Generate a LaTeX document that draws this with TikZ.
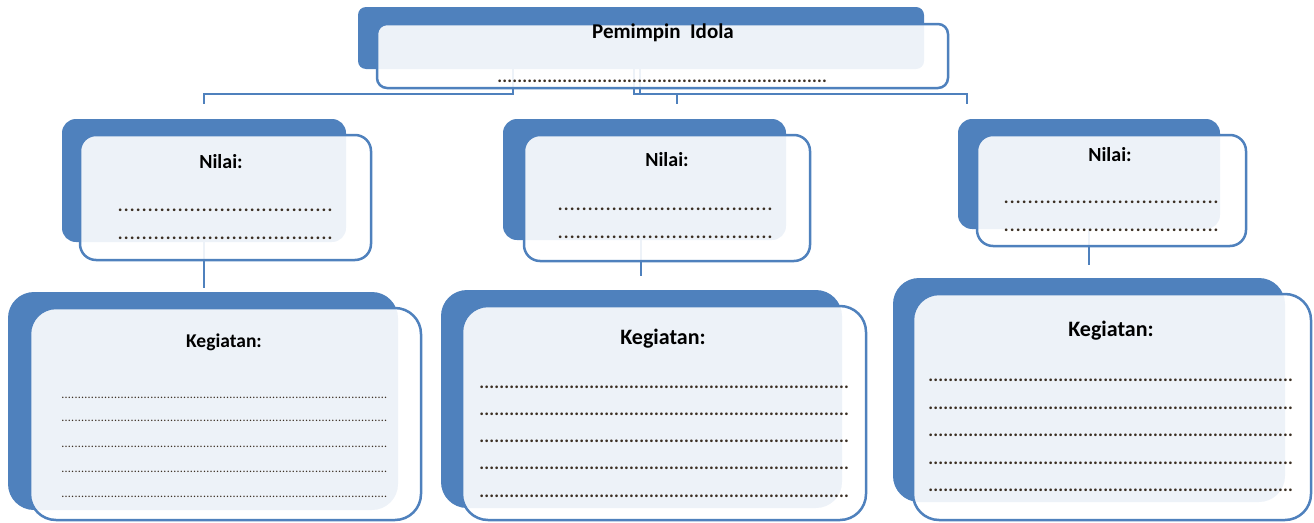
\documentclass[tikz,border=0pt]{standalone}
\usepackage{fontspec}
\setmainfont{Carlito}
\definecolor{blu}{HTML}{4F81BD}
\definecolor{dotc}{HTML}{3A2E22}
\newcommand{\dotrow}[2]{\hbox to #1{\leaders\hbox to #2{\hss.\hss}\hfill}}
\begin{document}
\begin{tikzpicture}[x=1pt,y=-1pt,
  backbox/.style={fill=blu, rectangle, rounded corners=#1, inner sep=0pt, outer sep=0pt},
  frontbox/.style={draw=blu, line width=2.5pt, fill=white, fill opacity=0.9, rectangle, rounded corners=#1, inner sep=0pt, outer sep=0pt},
  lbl/.style={font=\fontsize{#1}{22}\selectfont\bfseries, text=black, inner sep=0pt},
  dotsbig/.style={font=\fontsize{18}{20}\selectfont\bfseries, text=dotc, inner sep=0pt, anchor=base west},
  dotssmall/.style={font=\fontsize{12}{14}\selectfont, text=dotc, inner sep=0pt, anchor=base west},
  conn/.style={draw=blu, line width=2.5pt}]
\useasboundingbox (0,0) rectangle (1314,522);

% junction coordinates
\coordinate (jL) at (204,104);
\coordinate (jM) at (677,104);
\coordinate (jR) at (967,104);
\coordinate (kL) at (204,288);
\coordinate (kM) at (641,276);
\coordinate (kR) at (1089,265);

% back boxes
\node[backbox=8pt, minimum width=566pt, minimum height=62pt] (tb) at (641,38) {};
\node[backbox=14pt, minimum width=284pt, minimum height=123pt] (nbL) at (204,180.5) {};
\node[backbox=14pt, minimum width=283pt, minimum height=121pt] (nbM) at (644.5,179.5) {};
\node[backbox=14pt, minimum width=262pt, minimum height=110pt] (nbR) at (1089,174) {};
\node[backbox=26pt, minimum width=390pt, minimum height=218pt] (kbL) at (203,401) {};
\node[backbox=26pt, minimum width=401pt, minimum height=218pt] (kbM) at (641.5,399) {};
\node[backbox=26pt, minimum width=392pt, minimum height=224pt] (kbR) at (1089,390) {};

% connectors
\draw[conn] (tb.south -| 513,0) |- (jL |- 0,94) -- (jL);
\draw[conn] (tb.south -| 634,0) |- (jM |- 0,94) -- (jM);
\draw[conn] (tb.south -| 640,0) |- (jR |- 0,94) -- (jR);
\draw[conn] (nbL.south -| kL) -- (kL);
\draw[conn] (nbM.south -| kM) -- (kM);
\draw[conn] (nbR.south -| kR) -- (kR);

% front boxes
\node[frontbox=10pt, minimum width=571pt, minimum height=64pt] (tf) at (662.5,56) {};
\node[frontbox=16pt, minimum width=291pt, minimum height=125pt] (nfL) at (225.5,197.5) {};
\node[frontbox=16pt, minimum width=286pt, minimum height=126pt] (nfM) at (667,198) {};
\node[frontbox=16pt, minimum width=269pt, minimum height=111pt] (nfR) at (1111.5,190.5) {};
\node[frontbox=26pt, minimum width=391pt, minimum height=212pt] (kfL) at (225.5,414) {};
\node[frontbox=26pt, minimum width=404pt, minimum height=214pt] (kfM) at (664,413) {};
\node[frontbox=26pt, minimum width=398pt, minimum height=226pt] (kfR) at (1112,407) {};

% labels
\node[lbl=21] (tt) at (663,33) {Pemimpin\ \ Idola};
\node[lbl=20] (ntL) at (221,162) {Nilai:};
\node[lbl=20] (ntM) at (667,160) {Nilai:};
\node[lbl=20] (ntR) at (1110,155) {Nilai:};
\node[lbl=19.5] (ktL) at (224,342) {Kegiatan:};
\node[lbl=22] (ktM) at (663,339) {Kegiatan:};
\node[lbl=22] (ktR) at (1111,331) {Kegiatan:};

% dotted lines
\node[dotsbig] (td) at (497,82) {\dotrow{334pt}{5pt}};
\node[dotsbig] (dL1) at (117,211) {\dotrow{218pt}{6pt}};
\node[dotsbig] (dL2) at (117,239) {\dotrow{218pt}{6pt}};
\node[dotsbig] (dM1) at (557,210) {\dotrow{219pt}{6pt}};
\node[dotsbig] (dM2) at (557,238) {\dotrow{219pt}{6pt}};
\node[dotsbig] (dR1) at (1003,203) {\dotrow{218pt}{6pt}};
\node[dotsbig] (dR2) at (1003,231) {\dotrow{218pt}{6pt}};

\foreach \yy [count=\i] in {398,421,447,472,497}
  \node[dotssmall] (kdL\i) at (61,\yy) {\dotrow{328pt}{3.3pt}};
\foreach \yy [count=\i] in {388,415,442,469,497}
  \node[dotsbig] (kdM\i) at (479,\yy) {\dotrow{371pt}{5pt}};
\foreach \yy [count=\i] in {381,409,436,464,491}
  \node[dotsbig] (kdR\i) at (928,\yy) {\dotrow{369pt}{5pt}};
\end{tikzpicture}
\end{document}
